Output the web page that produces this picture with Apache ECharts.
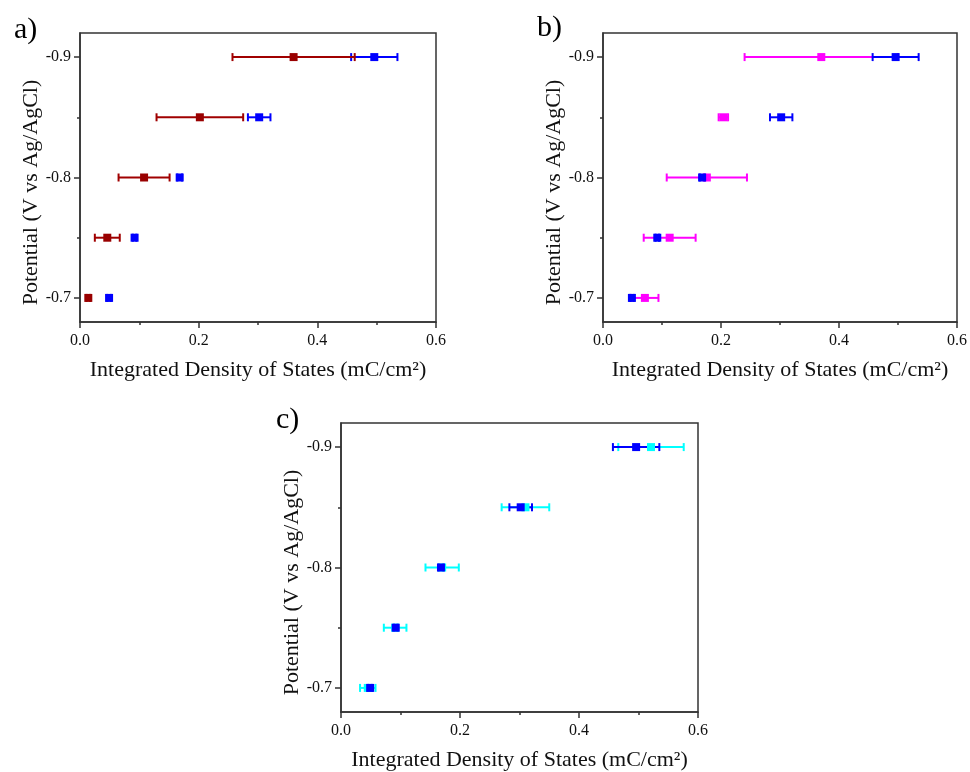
<!DOCTYPE html>
<html>
<head>
<meta charset="utf-8">
<title>Integrated Density of States</title>
<script src="https://cdn.jsdelivr.net/npm/echarts@6/dist/echarts.min.js"></script>
<style>
  html, body { margin: 0; padding: 0; background: #fff; }
  #chart { width: 970px; height: 772px; }
</style>
</head>
<body>
<div id="chart"></div>
<script>
// potentials (V vs Ag/AgCl)
const potentials = [-0.7, -0.75, -0.8, -0.85, -0.9]
const yMajor = [-0.9, -0.8, -0.7]
const yMinor = [-0.85, -0.75]

// integrated density of states (mC/cm2), mean and half error bar
const blueMean = [0.049, 0.092, 0.168, 0.302, 0.496]
const blueErr = [0.003, 0.003, 0.004, 0.019, 0.039]
const redMean = [0.014, 0.046, 0.108, 0.202, 0.360]
const redErr = [0.003, 0.021, 0.043, 0.073, 0.103]
const magentaMean = [0.071, 0.113, 0.176, 0.204, 0.370]
const magentaErr = [0.023, 0.044, 0.068, 0.008, 0.130]
const cyanMean = [0.045, 0.091, 0.170, 0.310, 0.521]
const cyanErr = [0.013, 0.019, 0.028, 0.040, 0.055]

const FONT = '"Liberation Serif", "DejaVu Serif", serif'
const AXIS_COLOR = '#333'

const grids = [
  { left: 80, top: 33, width: 356, height: 289 },
  { left: 603, top: 33, width: 357, height: 289 },
  { left: 341, top: 423, width: 357, height: 290 }
]

const errData = (mean, err) => potentials.map((p, i) => [mean[i] - err[i], mean[i] + err[i], p])
const ptData = (mean) => potentials.map((p, i) => [mean[i], p])

function errSeries (g, mean, err, color) {
  return {
    type: 'custom',
    xAxisIndex: g,
    yAxisIndex: g,
    encode: { x: [0, 1], y: 2 },
    data: errData(mean, err),
    silent: true,
    renderItem: (params, api) => {
      const a = api.coord([api.value(0), api.value(2)])
      const b = api.coord([api.value(1), api.value(2)])
      const cap = 4
      const style = { stroke: color, lineWidth: 2 }
      return {
        type: 'group',
        children: [
          { type: 'line', shape: { x1: a[0], y1: a[1], x2: b[0], y2: b[1] }, style },
          { type: 'line', shape: { x1: a[0], y1: a[1] - cap, x2: a[0], y2: a[1] + cap }, style },
          { type: 'line', shape: { x1: b[0], y1: b[1] - cap, x2: b[0], y2: b[1] + cap }, style }
        ]
      }
    }
  }
}

function pointSeries (g, mean, color) {
  return {
    type: 'scatter',
    xAxisIndex: g,
    yAxisIndex: g,
    symbol: 'rect',
    symbolSize: 8,
    itemStyle: { color, opacity: 1 },
    data: ptData(mean),
    silent: true
  }
}

const xAxes = grids.map((_, g) => ({
  type: 'value',
  gridIndex: g,
  min: 0,
  max: 0.6,
  interval: 0.2,
  axisLine: { show: true, lineStyle: { color: AXIS_COLOR, width: 1.5 } },
  axisTick: { show: true, length: 6, lineStyle: { color: AXIS_COLOR, width: 1.5 } },
  minorTick: { show: true, splitNumber: 2, length: 3, lineStyle: { color: AXIS_COLOR, width: 1.5 } },
  axisLabel: { margin: 11, fontFamily: FONT, fontSize: 16, color: '#111', formatter: v => v.toFixed(1) },
  splitLine: { show: false },
  minorSplitLine: { show: false },
  name: 'Integrated Density of States (mC/cm²)',
  nameLocation: 'middle',
  nameGap: 37,
  nameTextStyle: { fontFamily: FONT, fontSize: 22, color: '#111' }
}))

const yAxes = grids.map((_, g) => ({
  type: 'value',
  gridIndex: g,
  position: 'left',
  min: -0.92,
  max: -0.68,
  inverse: true,
  axisLine: { show: true, lineStyle: { color: AXIS_COLOR, width: 1.5 } },
  axisTick: { show: true, length: 6, customValues: yMajor, lineStyle: { color: AXIS_COLOR, width: 1.5 } },
  axisLabel: { margin: 9, customValues: yMajor, fontFamily: FONT, fontSize: 16, color: '#111', formatter: v => v.toFixed(1) },
  splitLine: { show: false },
  name: 'Potential (V vs Ag/AgCl)',
  nameLocation: 'middle',
  nameGap: 38,
  nameRotate: 90,
  nameTextStyle: { fontFamily: FONT, fontSize: 22, color: '#111', padding: [0, 30, 0, 0] }
})).concat(grids.map((_, g) => ({
  // minor ticks only
  type: 'value',
  gridIndex: g,
  position: 'left',
  offset: 0,
  min: -0.92,
  max: -0.68,
  inverse: true,
  axisLine: { show: false },
  axisTick: { show: true, length: 3, customValues: yMinor, lineStyle: { color: AXIS_COLOR, width: 1.5 } },
  axisLabel: { show: false },
  splitLine: { show: false }
})))

const chart = echarts.init(document.getElementById('chart'))
chart.setOption({
  animation: false,
  backgroundColor: '#fff',
  title: [
    { text: 'a)', left: 9, top: 10 },
    { text: 'b)', left: 532, top: 8 },
    { text: 'c)', left: 271, top: 400 }
  ].map(t => Object.assign(t, { textStyle: { fontFamily: FONT, fontSize: 30, fontWeight: 'normal', color: '#000' } })),
  grid: grids.map(g => Object.assign({ show: true, borderColor: AXIS_COLOR, borderWidth: 1.5 }, g)),
  xAxis: xAxes,
  yAxis: yAxes,
  series: [
    // a)
    errSeries(0, blueMean, blueErr, '#0000ff'),
    pointSeries(0, blueMean, '#0000ff'),
    errSeries(0, redMean, redErr, '#a00000'),
    pointSeries(0, redMean, '#990000'),
    // b)
    errSeries(1, magentaMean, magentaErr, '#ff00ff'),
    pointSeries(1, magentaMean, '#ff00ff'),
    errSeries(1, blueMean, blueErr, '#0000ff'),
    pointSeries(1, blueMean, '#0000ff'),
    // c)
    errSeries(2, cyanMean, cyanErr, '#00ffff'),
    errSeries(2, blueMean, blueErr, '#0000ff'),
    pointSeries(2, cyanMean, '#00ffff'),
    pointSeries(2, blueMean, '#0000ff')
  ]
})
</script>
</body>
</html>
